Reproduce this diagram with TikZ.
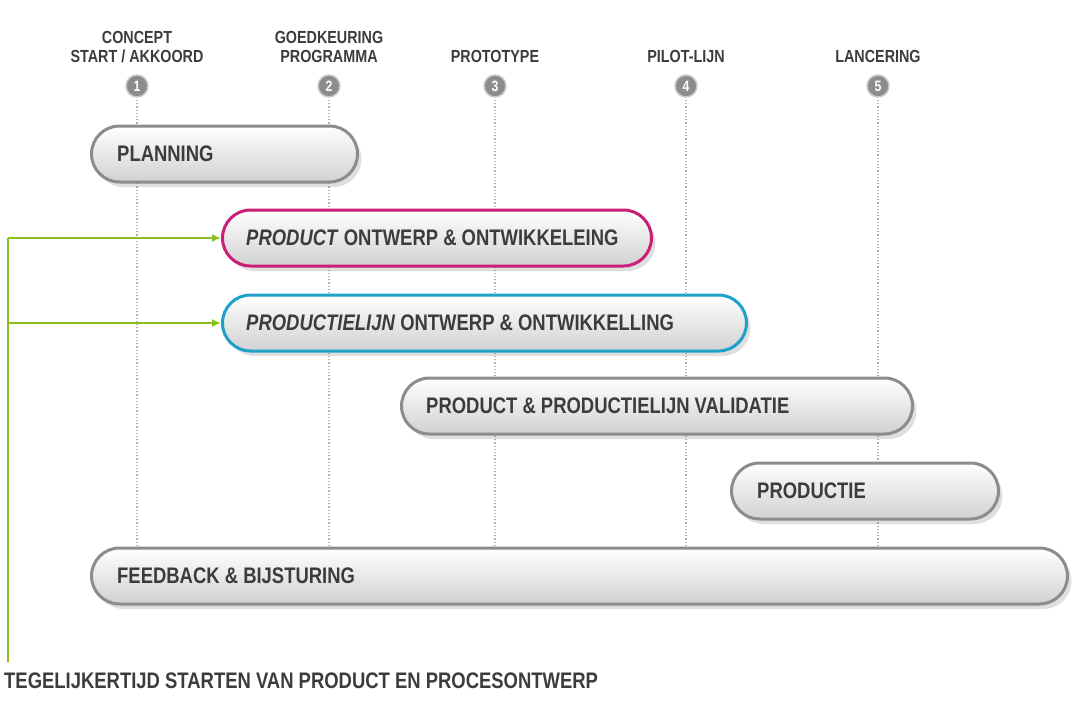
\documentclass[tikz,border=0pt]{standalone}
\usepackage{fontspec}
\setmainfont{Liberation Sans}[FakeStretch=0.82]
\usepackage{tikz}
\usetikzlibrary{arrows.meta,shapes,positioning,shadows}
\definecolor{tlgray}{RGB}{140,140,140}
\definecolor{tlmagenta}{RGB}{204,30,120}
\definecolor{tlcyan}{RGB}{30,160,200}
\definecolor{tlgreen}{RGB}{140,190,30}
\definecolor{tltext}{RGB}{60,60,60}

\begin{document}
\begin{tikzpicture}[x=1pt,y=-1pt,
    bar/.style={rectangle, rounded corners=28pt, minimum height=56pt, anchor=west,
        draw=tlgray, line width=3pt, top color=white, bottom color=black!18,
        drop shadow={shadow xshift=4pt, shadow yshift=-5pt, opacity=0.25}},
    label/.style={font=\bfseries\fontsize{22.5}{24}\selectfont, text=tltext, anchor=west, inner sep=0pt},
    mile/.style={font=\bfseries\fontsize{17.5}{19}\selectfont, text=tltext, align=center, anchor=south},
    num/.style={circle, fill=black!45, draw=black!20, line width=1.5pt, minimum size=22pt, inner sep=0pt,
        text=white, font=\bfseries\fontsize{15}{15}\selectfont},
    guide/.style={dotted, line width=1.2pt, color=black!30},
    link/.style={line width=1.5pt, color=tlgreen, -{Latex[length=9pt,width=8pt]}}
]
\useasboundingbox (0,0) rectangle (1080,720);

% milestones
\foreach \x/\n/\t in {137/1/{CONCEPT\\START / AKKOORD}, 329/2/{GOEDKEURING\\PROGRAMMA},
    495/3/PROTOTYPE, 686/4/PILOT-LIJN, 878/5/LANCERING}{
  \draw[guide] (\x,100) -- (\x,545);
  \node[num] (m\n) at (\x,86) {\n};
  \node[mile] (t\n) at (\x,66) {\t};
}

% bars
\node[bar, minimum width=266pt] (plan) at (90,154) {};
\node[label, right=27pt of plan.west] {PLANNING};

\node[bar, draw=tlmagenta, minimum width=429pt] (prod) at (221,238) {};
\node[label, right=25pt of prod.west] {\textit{PRODUCT} ONTWERP \& ONTWIKKELEING};

\node[bar, draw=tlcyan, minimum width=524pt] (line) at (221,323) {};
\node[label, right=25pt of line.west] {\textit{PRODUCTIELIJN} ONTWERP \& ONTWIKKELLING};

\node[bar, minimum width=511pt] (valid) at (400,406) {};
\node[label, right=26pt of valid.west] {PRODUCT \& PRODUCTIELIJN VALIDATIE};

\node[bar, minimum width=267pt] (prodn) at (730,491) {};
\node[label, right=27pt of prodn.west] {PRODUCTIE};

\node[bar, minimum width=976pt] (feed) at (90,576) {};
\node[label, right=27pt of feed.west] {FEEDBACK \& BIJSTURING};

% simultaneous start
\coordinate (base) at (8,662);
\coordinate (top) at (8,238);
\coordinate (mid) at (8,323);
\draw[line width=1.5pt, color=tlgreen] (base) -- (top);
\draw[link] (top) -- (prod.west);
\draw[link] (mid) -- (line.west);
\node[label, anchor=north west] (note) at (4,673) {TEGELIJKERTIJD STARTEN VAN PRODUCT EN PROCESONTWERP};
\end{tikzpicture}
\end{document}
